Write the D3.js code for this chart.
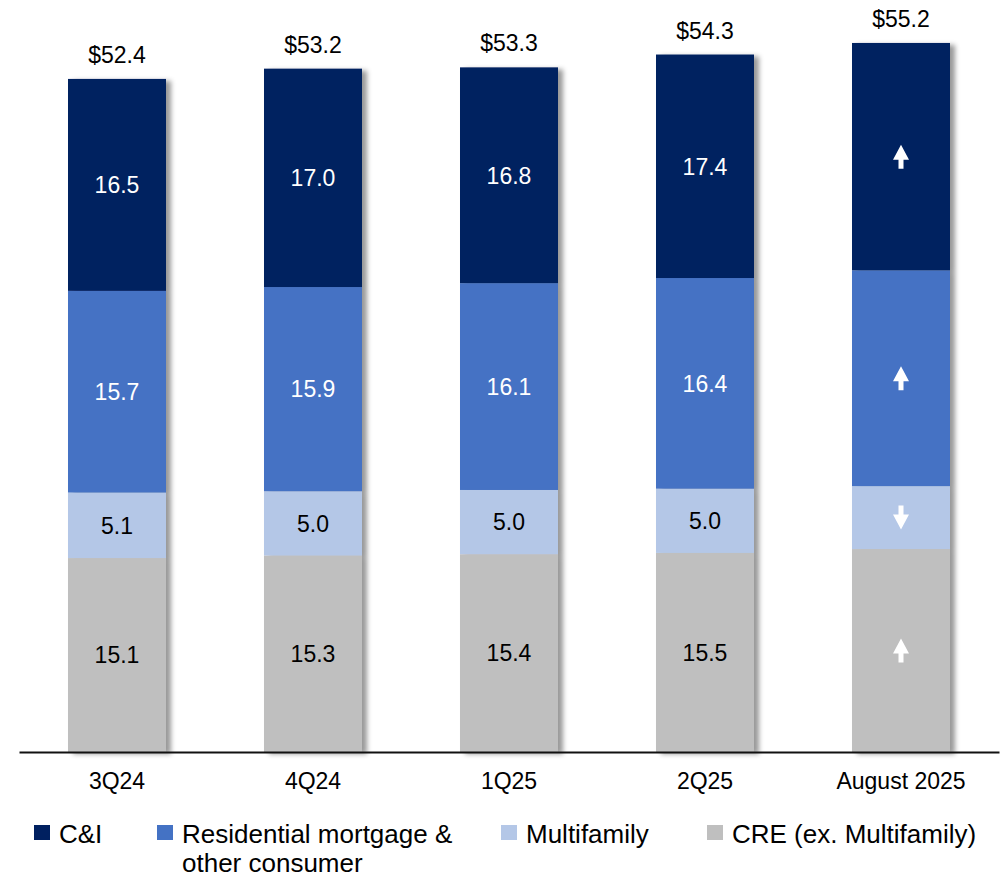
<!DOCTYPE html>
<html>
<head>
<meta charset="utf-8">
<script src="https://cdn.jsdelivr.net/npm/d3@7/dist/d3.min.js"></script>
<style>
  html, body { margin: 0; padding: 0; background: #fff; }
  svg { display: block; font-family: "Liberation Sans", Arial, sans-serif; }
</style>
</head>
<body>
<svg id="chart" width="1003" height="877"></svg>
<script>
// Loan balances by period ($ billions)
const periods = ["3Q24", "4Q24", "1Q25", "2Q25", "August 2025"];
const seriesNames = ["CRE (ex. Multifamily)", "Multifamily", "Residential mortgage & other consumer", "C&I"];
const creValues = [15.1, 15.3, 15.4, 15.5, 15.8];
const multifamilyValues = [5.1, 5.0, 5.0, 5.0, 4.9];
const residentialValues = [15.7, 15.9, 16.1, 16.4, 16.8];
const ciValues = [16.5, 17.0, 16.8, 17.4, 17.7];
const totals = [52.4, 53.2, 53.3, 54.3, 55.2];
// the last period shows direction arrows instead of numbers
const arrowPeriod = "August 2025";

const colors = ["#BFBFBF", "#B4C7E7", "#4472C4", "#002060"];
const labelColors = ["#000", "#000", "#fff", "#fff"];
const seriesValues = [creValues, multifamilyValues, residentialValues, ciValues];

const legendItems = [
  { name: "C&I", lines: ["C&I"], color: "#002060", x: 34 },
  { name: "Residential mortgage & other consumer", lines: ["Residential mortgage &", "other consumer"], color: "#4472C4", x: 157 },
  { name: "Multifamily", lines: ["Multifamily"], color: "#B4C7E7", x: 501 },
  { name: "CRE (ex. Multifamily)", lines: ["CRE (ex. Multifamily)"], color: "#BFBFBF", x: 707 }
];

const svg = d3.select("#chart");

const rows = periods.map((p, i) => {
  const r = { period: p };
  seriesNames.forEach((s, k) => { r[s] = seriesValues[k][i]; });
  return r;
});

const stacked = d3.stack().keys(seriesNames)(rows);

const x = d3.scaleBand()
  .domain(periods)
  .range([19, 999])
  .paddingInner(0.5)
  .paddingOuter(0.25);

const y = d3.scaleLinear().domain([0, 58]).range([752, 7]);

// soft shadow to the right of each column
const defs = svg.append("defs");
const f = defs.append("filter").attr("id", "colShadow")
  .attr("x", "-20%").attr("y", "-10%").attr("width", "150%").attr("height", "120%");
f.append("feDropShadow")
  .attr("dx", 5).attr("dy", 2).attr("stdDeviation", 2.5)
  .attr("flood-color", "#000").attr("flood-opacity", 0.4);

const columns = svg.append("g").selectAll("g.col")
  .data(periods)
  .join("g")
  .attr("class", "col")
  .attr("filter", "url(#colShadow)");

columns.each(function(p, i) {
  const g = d3.select(this);
  stacked.forEach((layer, k) => {
    const d = layer[i];
    g.append("rect")
      .attr("x", x(p))
      .attr("width", x.bandwidth())
      .attr("y", y(d[1]))
      .attr("height", y(d[0]) - y(d[1]))
      .attr("fill", colors[k]);
  });
});

// segment labels / arrows
const labelLayer = svg.append("g");
periods.forEach((p, i) => {
  const cx = x(p) + x.bandwidth() / 2;
  stacked.forEach((layer, k) => {
    const d = layer[i];
    const cy = (y(d[0]) + y(d[1])) / 2;
    if (p === arrowPeriod) {
      const prev = seriesValues[k][i - 1];
      const cur = seriesValues[k][i];
      const dir = cur >= prev ? -1 : 1; // -1 points up
      // arrow: 16 wide head, 5 wide shaft, 24 tall overall
      const tip = cy + dir * 12, headBase = cy + dir * -3, tail = cy - dir * 12;
      const path = [
        [cx, tip], [cx + 8, headBase], [cx + 2.5, headBase], [cx + 2.5, tail],
        [cx - 2.5, tail], [cx - 2.5, headBase], [cx - 8, headBase]
      ];
      labelLayer.append("path")
        .attr("d", d3.line()(path) + "Z")
        .attr("fill", "#fff");
    } else {
      labelLayer.append("text")
        .attr("x", cx)
        .attr("y", cy)
        .attr("dy", "0.36em")
        .attr("text-anchor", "middle")
        .attr("font-size", 23)
        .attr("fill", labelColors[k])
        .text(seriesValues[k][i].toFixed(1));
    }
  });
  labelLayer.append("text")
    .attr("x", cx)
    .attr("y", y(totals[i]) - 16)
    .attr("text-anchor", "middle")
    .attr("font-size", 23)
    .attr("fill", "#000")
    .text("$" + totals[i].toFixed(1));
});

// category axis
const axis = svg.append("g")
  .attr("transform", `translate(0,${y(0)})`)
  .attr("font-size", 23)
  .attr("font-family", "Liberation Sans, Arial, sans-serif")
  .call(d3.axisBottom(x).tickSize(0).tickPadding(21));
axis.select(".domain").attr("stroke", "#111").attr("stroke-width", 2);
axis.selectAll("text")
  .attr("font-size", 23)
  .attr("fill", "#000");

// legend
const legend = svg.append("g");
legendItems.forEach(item => {
  legend.append("rect")
    .attr("x", item.x).attr("y", 825)
    .attr("width", 16).attr("height", 15)
    .attr("fill", item.color);
  const t = legend.append("text")
    .attr("x", item.x + 25)
    .attr("y", 843)
    .attr("font-size", 26)
    .attr("fill", "#000");
  item.lines.forEach((ln, j) => {
    t.append("tspan").attr("x", item.x + 25).attr("dy", j === 0 ? 0 : 29).text(ln);
  });
});
</script>
</body>
</html>
